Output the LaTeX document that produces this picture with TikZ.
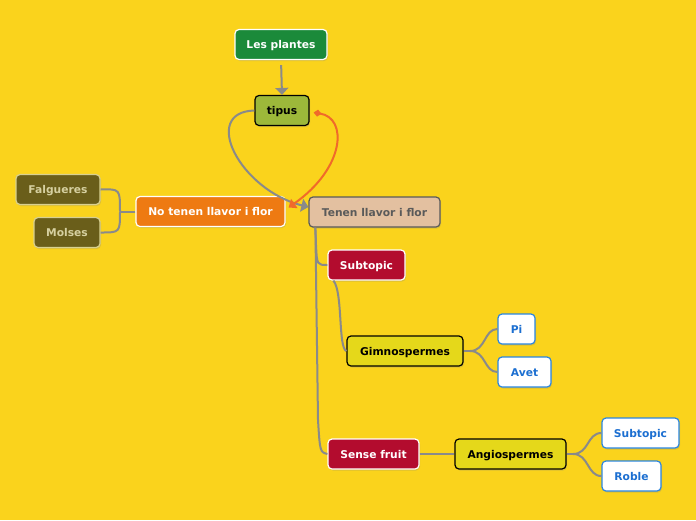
\documentclass[tikz,border=0pt]{standalone}
\usepackage{fontspec}
\setmainfont{DejaVu Sans}
\usetikzlibrary{arrows.meta,shadows,calc}
\definecolor{bg}{HTML}{FAD31C}
\definecolor{cgreen}{HTML}{1B8A3A}
\definecolor{colive}{HTML}{9DB83A}
\definecolor{corange}{HTML}{EE7A12}
\definecolor{ctan}{HTML}{E3C0A0}
\definecolor{cgraytxt}{HTML}{5A5A5A}
\definecolor{cdark}{HTML}{6A5E1A}
\definecolor{cdarkbd}{HTML}{D8D090}
\definecolor{cdarktxt}{HTML}{D6D0A0}
\definecolor{cred}{HTML}{B30C2E}
\definecolor{cyel}{HTML}{E5D81A}
\definecolor{cblue}{HTML}{2B86E0}
\definecolor{cbluetxt}{HTML}{1C6FD1}
\definecolor{cline}{HTML}{8A8A8A}
\definecolor{carrow}{HTML}{F06A2A}
\begin{document}
\begin{tikzpicture}[x=1pt,y=-1pt,
  font=\fontsize{10.7}{12}\selectfont\bfseries,
  box/.style={rounded corners=4pt, inner sep=0pt, line width=1.2pt,
    minimum height=30pt, align=center, text height=8pt, text depth=0pt,
    drop shadow={shadow xshift=1pt, shadow yshift=-1.5pt, opacity=0.25}},
  greenbox/.style={box, fill=cgreen, draw=white, text=white},
  olivebox/.style={box, fill=colive, draw=black, text=black},
  orangebox/.style={box, fill=corange, draw=white, text=white},
  tanbox/.style={box, fill=ctan, draw=cgraytxt, text=cgraytxt},
  darkbox/.style={box, fill=cdark, draw=cdarkbd, text=cdarktxt},
  redbox/.style={box, fill=cred, draw=white, text=white},
  yelbox/.style={box, fill=cyel, draw=black, text=black},
  leafbox/.style={box, fill=white, draw=cblue, text=cbluetxt},
  conn/.style={draw=cline, line width=2pt},
  gtip/.style={-{Triangle[width=13pt,length=7pt]}},
]
\fill[bg] (0,0) rectangle (696,520);
\useasboundingbox (0,0) rectangle (696,520);

\node[greenbox, minimum width=92pt] (plantes) at (281,44.5) {Les plantes};
\node[olivebox, minimum width=54pt] (tipus) at (282,110.5) {tipus};
\node[orangebox, minimum width=149pt] (no) at (210.5,211.5) {No tenen llavor i flor};
\node[tanbox, minimum width=131pt] (tenen) at (374.5,212) {Tenen llavor i flor};
\node[darkbox, minimum width=84pt] (falg) at (58,189.5) {Falgueres};
\node[darkbox, minimum width=66pt] (molses) at (67,232.5) {Molses};
\node[redbox, minimum width=77pt] (sub1) at (366.5,265) {Subtopic};
\node[yelbox, minimum width=116pt] (gimno) at (405,351) {Gimnospermes};
\node[leafbox, minimum width=37pt] (pi) at (516.5,329) {Pi};
\node[leafbox, minimum width=53pt] (avet) at (524.5,372) {Avet};
\node[redbox, minimum width=91pt] (sense) at (373.5,454) {Sense fruit};
\node[yelbox, minimum width=111pt] (angio) at (510.5,454) {Angiospermes};
\node[leafbox, minimum width=77pt] (sub2) at (640.5,433) {Subtopic};
\node[leafbox, minimum width=59pt] (roble) at (631.5,476) {Roble};

% connectors
\draw[conn, gtip, shorten <=5pt] (plantes.south) -- (tipus.north);
\draw[conn, gtip] (tipus.west) .. controls (200,112) and (240,190) .. ($(tenen.west)+(0,-5)$);
\draw[draw=carrow, line width=2pt, {Diamond[width=7pt,length=8pt]}-{Triangle[width=11pt,length=7pt]}]
  ($(tipus.east)+(4,2)$) .. controls (348,118) and (345,168) .. ($(no.east)+(3,-4)$);

\coordinate (nj) at (120,211.5);
\draw[conn] (no.west) -- (nj);
\draw[conn] (nj) .. controls (120,189) .. (falg.east);
\draw[conn] (nj) .. controls (120,232.5) .. (molses.east);

\coordinate (tj) at ($(tenen.south west)+(7,0)$);
\draw[conn] (tj) -- (316,245) .. controls (317,265) .. (sub1.west);
\draw[conn] (tj) -- (318,420) .. controls (320,452) .. (sense.west);
\draw[conn] ($(sub1.south west)+(6,0)$) .. controls (343,292) and (338,348) .. (gimno.west);

\coordinate (gj) at (470,351);
\draw[conn] (gimno.east) -- (gj);
\draw[conn] (gj) .. controls (486,351) and (484,329) .. (pi.west);
\draw[conn] (gj) .. controls (486,351) and (484,372) .. (avet.west);

\draw[conn] (sense.east) -- (angio.west);
\coordinate (aj) at (573,454);
\draw[conn] (angio.east) -- (aj);
\draw[conn] (aj) .. controls (589,454) and (587,433) .. (sub2.west);
\draw[conn] (aj) .. controls (589,454) and (587,476) .. (roble.west);
\end{tikzpicture}
\end{document}
